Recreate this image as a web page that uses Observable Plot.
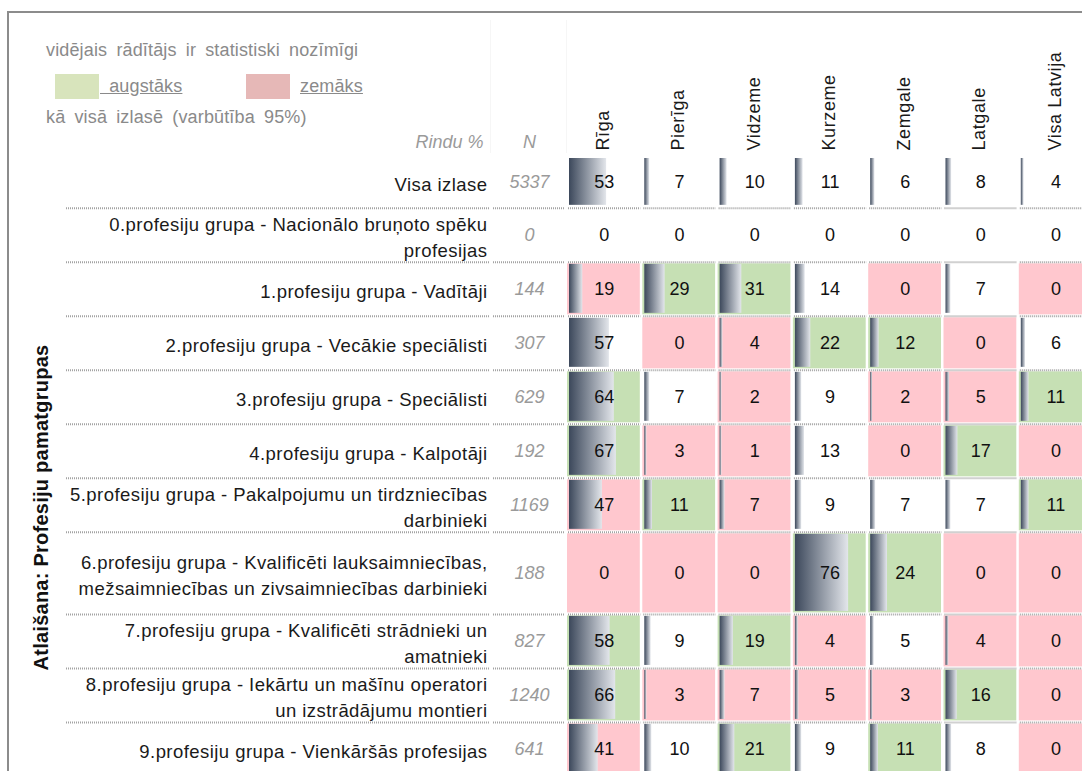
<!DOCTYPE html>
<html>
<head>
<meta charset="utf-8">
<script src="https://cdn.jsdelivr.net/npm/d3@7"></script>
<script src="https://cdn.jsdelivr.net/npm/@observablehq/plot@0.6"></script>
<style>
  html, body { margin: 0; padding: 0; background: #fff; }
  #wrap { position: relative; width: 1082px; height: 771px; overflow: hidden; font-family: "Liberation Sans", Arial, sans-serif; }
  #wrap svg { position: absolute; left: 0; top: 0; }
  #frame { position: absolute; left: 7px; top: 11px; width: 1200px; height: 1000px; border: 2px solid #8c8c8c; box-sizing: border-box; pointer-events: none; }
  .lg { position: absolute; color: #8a8a8a; font-size: 18px; word-spacing: 4px; letter-spacing: 0.15px; white-space: nowrap; line-height: 1; }
  .sw { position: absolute; width: 44px; height: 25px; }
  .lk { text-decoration: underline; }
</style>
</head>
<body>
<div id="wrap"></div>
<script>
// ---------- data ----------
const regions = ["Rīga", "Pierīga", "Vidzeme", "Kurzeme", "Zemgale", "Latgale", "Visa Latvija"];
const groups = [
  "Visa izlase",
  "0.profesiju grupa - Nacionālo bruņoto spēku\nprofesijas",
  "1.profesiju grupa - Vadītāji",
  "2.profesiju grupa - Vecākie speciālisti",
  "3.profesiju grupa - Speciālisti",
  "4.profesiju grupa - Kalpotāji",
  "5.profesiju grupa - Pakalpojumu un tirdzniecības\ndarbinieki",
  "6.profesiju grupa - Kvalificēti lauksaimniecības,\nmežsaimniecības un zivsaimniecības darbinieki",
  "7.profesiju grupa - Kvalificēti strādnieki un\namatnieki",
  "8.profesiju grupa - Iekārtu un mašīnu operatori\nun izstrādājumu montieri",
  "9.profesiju grupa - Vienkāršās profesijas"
];
const groupN = [5337, 0, 144, 307, 629, 192, 1169, 188, 827, 1240, 641];
const rowPercent = [
  [53, 7, 10, 11, 6, 8, 4],
  [0, 0, 0, 0, 0, 0, 0],
  [19, 29, 31, 14, 0, 7, 0],
  [57, 0, 4, 22, 12, 0, 6],
  [64, 7, 2, 9, 2, 5, 11],
  [67, 3, 1, 13, 0, 17, 0],
  [47, 11, 7, 9, 7, 7, 11],
  [0, 0, 0, 76, 24, 0, 0],
  [58, 9, 19, 4, 5, 4, 0],
  [66, 3, 7, 5, 3, 16, 0],
  [41, 10, 21, 9, 11, 8, 0]
];
// "+" significantly higher, "-" significantly lower, "" not significant
const significance = [
  ["", "", "", "", "", "", ""],
  ["", "", "", "", "", "", ""],
  ["-", "+", "+", "", "-", "", "-"],
  ["", "-", "-", "+", "+", "-", ""],
  ["+", "", "-", "", "-", "-", "+"],
  ["+", "-", "-", "", "-", "+", "-"],
  ["-", "+", "-", "", "", "", "+"],
  ["-", "-", "-", "+", "+", "-", "-"],
  ["+", "", "+", "-", "", "-", "-"],
  ["+", "-", "-", "-", "-", "+", "-"],
  ["-", "", "+", "", "+", "", "-"]
];
const legendTitle = "vidējais rādītājs ir statistiski nozīmīgi";
const legendHigher = "augstāks";
const legendLower = "zemāks";
const legendNote = "kā visā izlasē (varbūtība 95%)";
const axisTitle = "Atlaišana: Profesiju pamatgrupas";
const headerPct = "Rindu %";
const headerN = "N";

// ---------- layout ----------
const COLW = 75.3, ROWH = 54;
const X0 = 567, Y0 = 156;
const xu = px => px / COLW;          // pixel offset -> column units
const yu = px => px / ROWH;          // pixel offset -> row units
const xAt = px => (px - X0) / COLW;  // absolute pixel -> column units
const yAt = px => (px - Y0) / ROWH;
const rowSpan = [0.96, 1, 1, 1, 1, 1, 1, 1.52, 1, 1, 1];
const rowTop = Array.from(d3.cumsum([0, ...rowSpan]));
const sigFill = {"+": "#c6e0b4", "-": "#ffc7ce"};

const rows = groups.map((label, i) => ({
  i, label, n: groupN[i],
  top: rowTop[i], bottom: rowTop[i] + rowSpan[i], mid: rowTop[i] + rowSpan[i] / 2
}));
const cells = rows.flatMap(r => regions.map((reg, j) => ({
  row: r, col: j, region: reg, value: rowPercent[r.i][j], sig: significance[r.i][j]
})));
const colored = cells.filter(d => d.sig !== "");
const barred = cells.filter(d => d.value > 0);

// separator segments under each row
const seps = [];
rows.forEach(r => {
  seps.push({y: r.bottom, x1: xAt(66), x2: xAt(489)});
  seps.push({y: r.bottom, x1: xAt(493), x2: xAt(564)});
  regions.forEach((_, j) => seps.push({y: r.bottom, x1: j + xu(1), x2: j + 1 - xu(2)}));
});

const font = "'Liberation Sans', Arial, sans-serif";

const plot = Plot.plot({
  width: 1082,
  height: 771,
  marginLeft: 0, marginRight: 0, marginTop: 0, marginBottom: 0,
  x: {type: "linear", domain: [0, 7], range: [X0, X0 + 7 * COLW], axis: null},
  y: {type: "linear", domain: [0, 10], range: [Y0, Y0 + 10 * ROWH], axis: null},
  style: {background: "transparent", fontFamily: font, overflow: "hidden"},
  marks: [
    // faint header column guides
    Plot.ruleX([xAt(490), xAt(566)], {y1: yAt(20), y2: yAt(153), stroke: "#f6f6f6", strokeWidth: 1}),
    // significance backgrounds
    Plot.rect(colored, {
      x1: d => d.col, x2: d => d.col + 1 - xu(2.5),
      y1: d => d.row.top + yu(1.5), y2: d => d.row.bottom - yu(1.5),
      fill: d => sigFill[d.sig]
    }),
    // gradient data bars
    Plot.rect(barred, {
      x1: d => d.col + xu(2),
      x2: d => d.col + xu(2) + xu(Math.max(d.value, 2.6) * 0.70),
      y1: d => d.row.top + yu(2), y2: d => d.row.bottom - yu(3),
      fill: "url(#barGrad)"
    }),
    // dotted separators
    Plot.ruleY(seps, {y: "y", x1: "x1", x2: "x2", stroke: "#a3a3a3", strokeWidth: 2, strokeDasharray: "1,1"}),
    // values
    Plot.text(cells, {
      x: d => d.col + 0.5 - xu(1), y: d => d.row.mid, text: d => String(d.value),
      fontSize: 18, fill: "#111"
    }),
    // row labels
    Plot.text(rows, {
      x: xAt(487), y: "mid", text: "label", textAnchor: "end",
      fontSize: 18.5, lineHeight: 1.42, fill: "#1a1a1a"
    }),
    // N column
    Plot.text(rows, {
      x: xAt(529), y: "mid", text: d => String(d.n),
      fontSize: 18, fontStyle: "italic", fill: "#9a9a9a"
    }),
    // column headers
    Plot.text(regions, {
      x: (d, j) => j + 0.5 - xu(2), y: 0, dy: -6, text: d => d, rotate: -90, textAnchor: "start",
      fontSize: 18, fill: "#1a1a1a"
    }),
    // header labels
    Plot.text([headerPct], {x: xAt(483), y: yAt(142), text: d => d, textAnchor: "end", fontSize: 18, fontStyle: "italic", fill: "#9a9a9a"}),
    Plot.text([headerN], {x: xAt(529), y: yAt(142), text: d => d, fontSize: 18, fontStyle: "italic", fill: "#9a9a9a"}),
    // axis title
    Plot.text([axisTitle], {x: xAt(41), y: yAt(507), text: d => d, rotate: -90, fontSize: 20, fontWeight: "bold", fill: "#111"})
  ]
});

// gradient definition
const svg = d3.select(plot);
const grad = svg.insert("defs", ":first-child").append("linearGradient")
  .attr("id", "barGrad").attr("x1", "0").attr("x2", "1").attr("y1", "0").attr("y2", "0");
grad.append("stop").attr("offset", "0%").attr("stop-color", "#3c485b");
grad.append("stop").attr("offset", "100%").attr("stop-color", "#e3e6eb");

// letter spacing to mimic the original renderer (matched by text content)
const labelSet = new Set(groups), regionSet = new Set(regions);
svg.selectAll("text").each(function () {
  const spans = this.querySelectorAll("tspan");
  const s = spans.length ? Array.from(spans, t => t.textContent).join("\n") : this.textContent;
  let ls = null;
  if (labelSet.has(s)) ls = "0.45px";
  else if (regionSet.has(s)) ls = "0.6px";
  else if (s === axisTitle) ls = "0.25px";
  if (ls) this.style.letterSpacing = ls;
});

const wrap = document.getElementById("wrap");
wrap.appendChild(plot);

// legend (HTML)
const lg = (text, left, top, cls) => {
  const el = document.createElement("div");
  el.className = "lg" + (cls ? " " + cls : "");
  el.textContent = text;
  el.style.left = left + "px";
  el.style.top = top + "px";
  wrap.appendChild(el);
};
const sw = (color, left, top) => {
  const el = document.createElement("div");
  el.className = "sw";
  el.style.background = color;
  el.style.left = left + "px";
  el.style.top = top + "px";
  wrap.appendChild(el);
};
lg(legendTitle, 46, 41);
sw("#d8e4bc", 55, 74);
lg("\u00a0" + legendHigher, 100, 77, "lk");
sw("#e6b8b7", 246, 74);
lg(legendLower, 300, 77, "lk");
lg(legendNote, 46, 108);

const frame = document.createElement("div");
frame.id = "frame";
wrap.appendChild(frame);
</script>
</body>
</html>
